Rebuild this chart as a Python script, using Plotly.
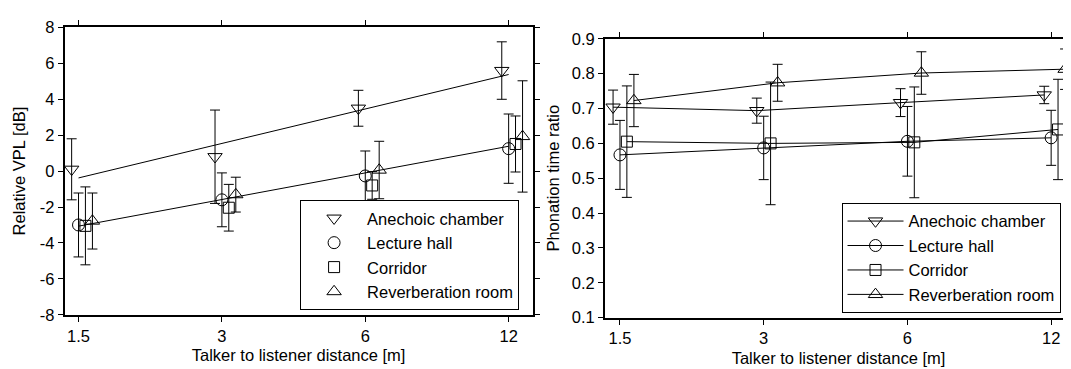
import numpy as np
import plotly.graph_objects as go

# ---------------- data ----------------
distances = [1.5, 3, 6, 12]
tick_labels = ["1.5", "3", "6", "12"]
conditions = ["Anechoic chamber", "Lecture hall", "Corridor", "Reverberation room"]

# Relative VPL [dB] (mean, sd)
vpl_anechoic = [0.1, 0.8, 3.5, 5.6]
vpl_anechoic_sd = [1.7, 2.6, 1.0, 1.6]
vpl_lecture = [-3.0, -1.6, -0.27, 1.25]
vpl_lecture_sd = [1.78, 1.5, 1.39, 1.93]
vpl_corridor = [-3.05, -2.04, -0.8, 1.51]
vpl_corridor_sd = [2.17, 1.3, 0.77, 1.56]
vpl_reverb = [-2.78, -1.31, 0.06, 1.93]
vpl_reverb_sd = [1.56, 0.97, 1.6, 3.1]

# Phonation time ratio (mean, sd)
ptr_anechoic = [0.704, 0.694, 0.717, 0.739]
ptr_anechoic_sd = [0.049, 0.036, 0.040, 0.025]
ptr_lecture = [0.567, 0.587, 0.606, 0.616]
ptr_lecture_sd = [0.099, 0.091, 0.100, 0.079]
ptr_corridor = [0.605, 0.600, 0.603, 0.640]
ptr_corridor_sd = [0.160, 0.176, 0.159, 0.144]
ptr_reverb = [0.723, 0.774, 0.802, 0.813]
ptr_reverb_sd = [0.075, 0.053, 0.061, 0.058]

vpl_ticks = [-8, -6, -4, -2, 0, 2, 4, 6, 8]
ptr_ticks = [0.1, 0.2, 0.3, 0.4, 0.5, 0.6, 0.7, 0.8, 0.9]

# ---------------- styling ----------------
symbols = ["triangle-down-open", "circle-open", "square-open", "triangle-up-open"]
sizes = [12.5, 12, 11, 12.5]
shift = [-0.048, 0.0, 0.048, 0.097]  # horizontal jitter in octaves
FONT = "Liberation Sans, Arial, sans-serif"
FS = 16.5
W, H = 1071, 369

vpl = [vpl_anechoic, vpl_lecture, vpl_corridor, vpl_reverb]
vpl_sd = [vpl_anechoic_sd, vpl_lecture_sd, vpl_corridor_sd, vpl_reverb_sd]
ptr = [ptr_anechoic, ptr_lecture, ptr_corridor, ptr_reverb]
ptr_sd = [ptr_anechoic_sd, ptr_lecture_sd, ptr_corridor_sd, ptr_reverb_sd]

d = np.array(distances, dtype=float)

fig = go.Figure()

# regression lines (left panel)
oct_ = np.log2(d / d[0])
ends = np.array([d[0], d[-1]])
oct_ends = np.log2(ends / d[0])
p_an = np.polyfit(oct_, np.array(vpl_anechoic), 1)
rooms_x = np.concatenate([oct_, oct_, oct_])
rooms_y = np.concatenate([vpl_lecture, vpl_corridor, vpl_reverb])
p_rm = np.polyfit(rooms_x, rooms_y, 1)
for p in (p_an, p_rm):
    fig.add_trace(go.Scatter(x=ends, y=np.polyval(p, oct_ends), mode="lines",
                             line=dict(color="black", width=1), showlegend=False,
                             hoverinfo="skip", xaxis="x", yaxis="y"))

# left panel markers
for i, name in enumerate(conditions):
    fig.add_trace(go.Scatter(
        x=d * 2 ** shift[i], y=vpl[i], mode="markers", name=name,
        marker=dict(symbol=symbols[i], size=sizes[i], color="black", line=dict(width=1, color="black")),
        error_y=dict(type="data", array=vpl_sd[i], color="black", thickness=1, width=5),
        legend="legend", xaxis="x", yaxis="y"))

# right panel
for i, name in enumerate(conditions):
    fig.add_trace(go.Scatter(
        x=d * 2 ** shift[i], y=ptr[i], mode="lines+markers", name=name,
        line=dict(color="black", width=1),
        marker=dict(symbol=symbols[i], size=sizes[i], color="black", line=dict(width=1, color="black")),
        error_y=dict(type="data", array=ptr_sd[i], color="black", thickness=1, width=5),
        legend="legend2", xaxis="x2", yaxis="y2"))

axis_common = dict(showline=True, linecolor="black", linewidth=2, mirror="ticks",
                   ticks="outside", ticklen=5, tickwidth=1, tickcolor="black",
                   showgrid=False, zeroline=False,
                   tickfont=dict(family=FONT, size=FS, color="black"))

fig.update_layout(
    width=W, height=H, margin=dict(l=0, r=0, t=0, b=0),
    paper_bgcolor="white", plot_bgcolor="white",
    font=dict(family=FONT, size=FS, color="black"),
    xaxis=dict(domain=[57 / W, 528 / W], type="log",
               range=[np.log10(1.4025), np.log10(13.47)],
               tickvals=distances, ticktext=tick_labels, anchor="y",
               title=dict(text="Talker to listener distance [m]", standoff=6,
                          font=dict(size=FS)), **axis_common),
    yaxis=dict(domain=[1 - 313 / H, 1 - 11 / H], range=[-8, 8], anchor="x",
               tickvals=vpl_ticks, ticktext=[str(v) for v in vpl_ticks],
               title=dict(text="Relative VPL [dB]", standoff=10, font=dict(size=FS)),
               **axis_common),
    xaxis2=dict(domain=[601 / W, 1.0], type="log",
                range=[np.log10(1.396), np.log10(13.27)],
                tickvals=distances, ticktext=tick_labels, anchor="y2",
                title=dict(text="Talker to listener distance [m]", standoff=6,
                           font=dict(size=FS)), **axis_common),
    yaxis2=dict(domain=[1 - 316 / H, 1 - 23 / H], range=[0.1, 0.9], anchor="x2",
                tickvals=ptr_ticks, ticktext=[f"{v:.1f}" for v in ptr_ticks],
                title=dict(text="Phonation time ratio", standoff=8, font=dict(size=FS)),
                **axis_common),
    legend=dict(x=294 / W, xanchor="left", y=1 - 308 / H, yanchor="bottom",
                bgcolor="white", bordercolor="black", borderwidth=1,
                font=dict(family=FONT, size=FS), itemwidth=56, tracegroupgap=0),
    legend2=dict(x=839 / W, xanchor="left", y=1 - 311 / H, yanchor="bottom",
                 bgcolor="white", bordercolor="black", borderwidth=1,
                 font=dict(family=FONT, size=FS), itemwidth=56, tracegroupgap=0),
)

fig.write_html("out.html")
